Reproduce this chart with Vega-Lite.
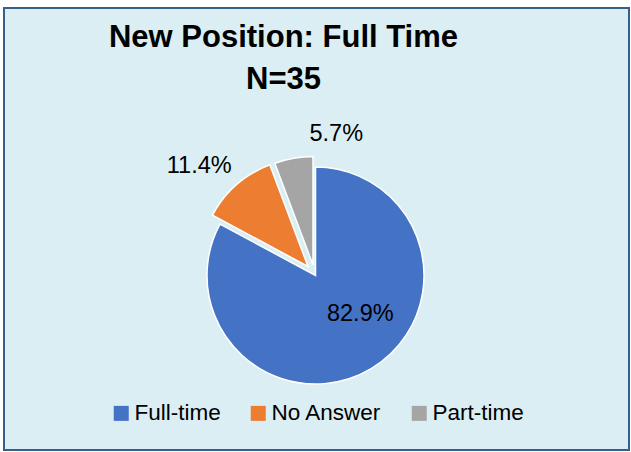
{
  "$schema": "https://vega.github.io/schema/vega-lite/v6.json",
  "width": 625,
  "height": 442,
  "autosize": {"type": "none"},
  "padding": {"left": 4, "top": 8, "right": 2, "bottom": 2},
  "background": "#ffffff",
  "view": {"fill": "#DAEEF3", "stroke": "#35608A", "strokeWidth": 2},
  "title": {
    "text": ["New Position: Full Time", "N=35"],
    "font": "Liberation Sans",
    "fontSize": 31,
    "fontWeight": "bold",
    "lineHeight": 42,
    "offset": -88,
    "dx": -33,
    "color": "#000000"
  },
  "data": {
    "values": [
      {"category": "Full-time", "count": 29, "label": "82.9%"},
      {"category": "No Answer", "count": 4, "label": "11.4%"},
      {"category": "Part-time", "count": 2, "label": "5.7%"}
    ]
  },
  "encoding": {
    "theta": {"field": "count", "type": "quantitative", "stack": true},
    "order": {"field": "category", "type": "ordinal", "sort": "ascending"}
  },
  "layer": [
    {
      "mark": {"type": "arc", "outerRadius": 108.5, "stroke": "#ffffff", "strokeWidth": 1.5, "xOffset": -1, "yOffset": 46.5},
      "encoding": {
        "color": {"field": "category", "type": "nominal", "scale": {"domain": ["Full-time", "No Answer", "Part-time"], "range": ["#4472C4", "#ED7D31", "#A5A5A5"]}, "legend": {"title": null}},
        "opacity": {"condition": {"test": "datum.category === 'Full-time'", "value": 1}, "value": 0}
      }
    },
    {
      "mark": {"type": "arc", "outerRadius": 108.5, "stroke": "#ffffff", "strokeWidth": 1.5, "xOffset": -8.5, "yOffset": 37.5},
      "encoding": {
        "color": {"field": "category", "type": "nominal"},
        "opacity": {"condition": {"test": "datum.category === 'No Answer'", "value": 1}, "value": 0}
      }
    },
    {
      "mark": {"type": "arc", "outerRadius": 108.5, "stroke": "#ffffff", "strokeWidth": 1.5, "xOffset": -3.5, "yOffset": 36},
      "encoding": {
        "color": {"field": "category", "type": "nominal"},
        "opacity": {"condition": {"test": "datum.category === 'Part-time'", "value": 1}, "value": 0}
      }
    },
    {
      "mark": {"type": "text", "radius": 60, "xOffset": -1, "yOffset": 46.5, "dx": 14, "dy": -13, "font": "Liberation Sans", "fontSize": 23.5, "color": "#000000"},
      "encoding": {
        "detail": {"field": "category", "type": "nominal"},
        "text": {"condition": {"test": "datum.category === 'Full-time'", "field": "label"}, "value": ""}
      }
    },
    {
      "mark": {"type": "text", "radius": 160, "xOffset": -1, "yOffset": 46.5, "dx": -11, "dy": 10.5, "font": "Liberation Sans", "fontSize": 23.5, "color": "#000000"},
      "encoding": {
        "detail": {"field": "category", "type": "nominal"},
        "text": {"condition": {"test": "datum.category === 'No Answer'", "field": "label"}, "value": ""}
      }
    },
    {
      "mark": {"type": "text", "radius": 130, "xOffset": -1, "yOffset": 46.5, "dx": 44, "dy": -13.5, "font": "Liberation Sans", "fontSize": 23.5, "color": "#000000"},
      "encoding": {
        "detail": {"field": "category", "type": "nominal"},
        "text": {"condition": {"test": "datum.category === 'Part-time'", "field": "label"}, "value": ""}
      }
    }
  ],
  "config": {
    "view": {"fill": "#DAEEF3", "stroke": "#35608A", "strokeWidth": 2},
    "legend": {
      "orient": "bottom",
      "direction": "horizontal",
      "offset": -48,
      "symbolType": "square",
      "symbolSize": 225,
      "symbolStrokeWidth": 0,
      "labelFont": "Liberation Sans",
      "labelFontSize": 22.5,
      "labelColor": "#000000",
      "labelOffset": 2,
      "columnPadding": 26,
      "layout": {"bottom": {"anchor": "middle"}}
    }
  }
}
